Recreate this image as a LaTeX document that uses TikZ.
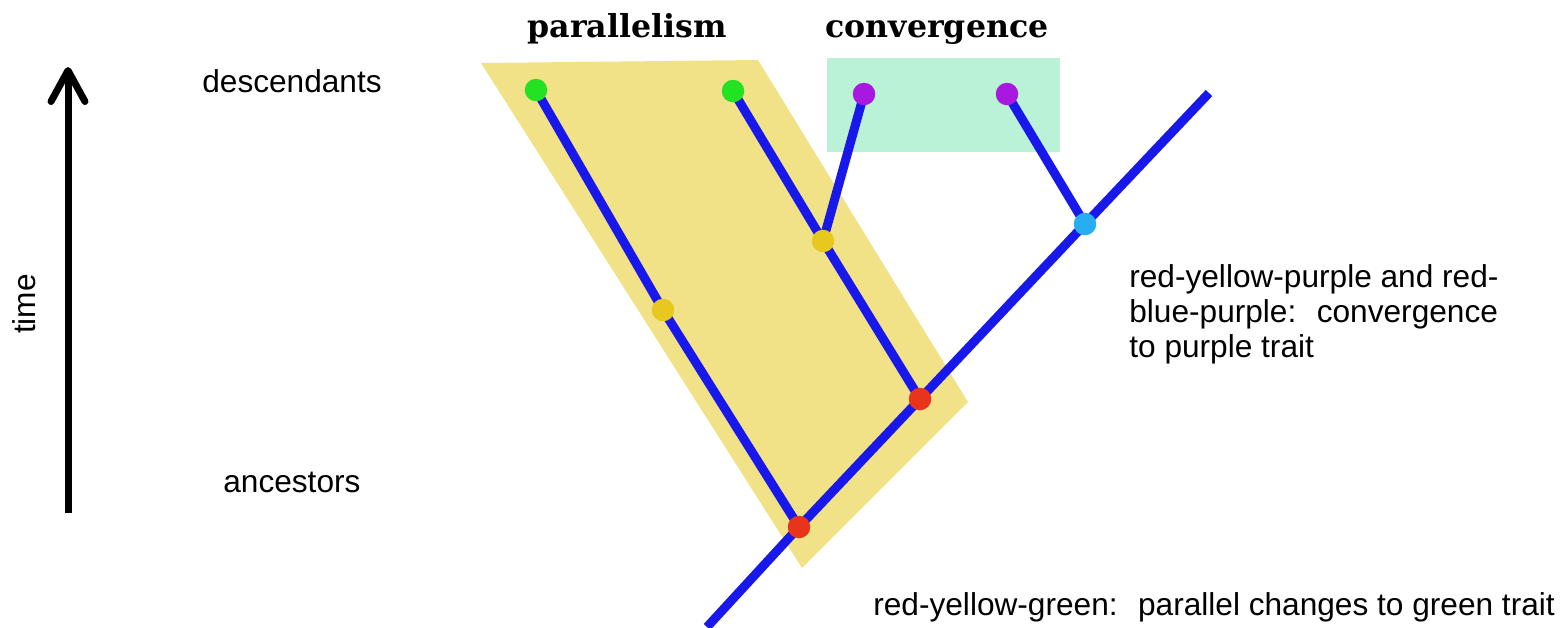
\documentclass[tikz,border=0pt]{standalone}
\usepackage{fontspec}
\setmainfont{Liberation Sans}
\newfontfamily\headfont{DejaVu Serif}
\usetikzlibrary{arrows.meta,backgrounds}
\definecolor{branchblue}{RGB}{24,24,235}
\definecolor{parfill}{RGB}{241,226,136}
\definecolor{convfill}{RGB}{186,242,216}
\definecolor{dotgreen}{RGB}{34,226,34}
\definecolor{dotpurple}{RGB}{168,24,222}
\definecolor{dotred}{RGB}{232,52,28}
\definecolor{dotyellow}{RGB}{232,200,30}
\definecolor{dotcyan}{RGB}{40,172,242}
\tikzset{
  dot/.style={circle, inner sep=0pt, minimum size=0.45cm},
  branch/.style={line width=0.18cm, branchblue},
  lbl/.style={font=\fontsize{18}{20}\selectfont, inner sep=0pt},
  head/.style={font=\headfont\bfseries\fontsize{18}{20}\selectfont, inner sep=0pt}
}
\begin{document}
\begin{tikzpicture}[x=0.02cm, y=-0.02cm]
  \useasboundingbox (0,0) rectangle (1568,627);
  \node[head, anchor=base] (par) at (627,37) {parallelism};
  \node[head, anchor=base] (conv) at (937,37) {convergence};
  \node[lbl, anchor=base west] (desc) at (202,92) {descendants};
  \node[lbl, anchor=base west] (anc) at (223,492) {ancestors};
  \node[lbl, rotate=90] (time) at (24,304) {time};
  \coordinate (tbot) at (68,513); \coordinate (ttop) at (68,67);
  \draw[line width=0.14cm, -{Straight Barb[length=0.62cm, width=0.68cm, round]}]
    (tbot) -- (ttop);
  \node[dot, fill=dotred] (r1) at (799,527) {};
  \node[dot, fill=dotred] (r2) at (920,399) {};
  \node[dot, fill=dotcyan] (b1) at (1085,224) {};
  \node[dot, fill=dotyellow] (y1) at (663,310) {};
  \node[dot, fill=dotyellow] (y2) at (823,241) {};
  \node[dot, fill=dotgreen] (g1) at (536,90) {};
  \node[dot, fill=dotgreen] (g2) at (733,91) {};
  \node[dot, fill=dotpurple] (p1) at (864,94) {};
  \node[dot, fill=dotpurple] (p2) at (1007,94) {};
  \coordinate (root) at (707,627); \coordinate (top) at (1209,93);
  \begin{pgfonlayer}{background}
    \fill[parfill] (481,63) -- (758,60) -- (968,402) -- (802,568) -- cycle;
    \fill[convfill] (827,58) rectangle (1060,152);
    \draw[branch] (root) -- (r1.center) -- (r2.center) -- (b1.center) -- (top);
    \draw[branch] (r1.center) -- (y1.center) -- (g1.center);
    \draw[branch] (r2.center) -- (y2.center) -- (g2.center);
    \draw[branch] (y2.center) -- (p1.center);
    \draw[branch] (b1.center) -- (p2.center);
  \end{pgfonlayer}
  \node[lbl, anchor=north west, align=left] (convtxt) at (1129,264)
    {red-yellow-purple and red-\\blue-purple:~ convergence\\to purple trait};
  \node[lbl, anchor=base west] (partxt) at (873,615)
    {red-yellow-green:~ parallel changes to green trait};
\end{tikzpicture}
\end{document}
